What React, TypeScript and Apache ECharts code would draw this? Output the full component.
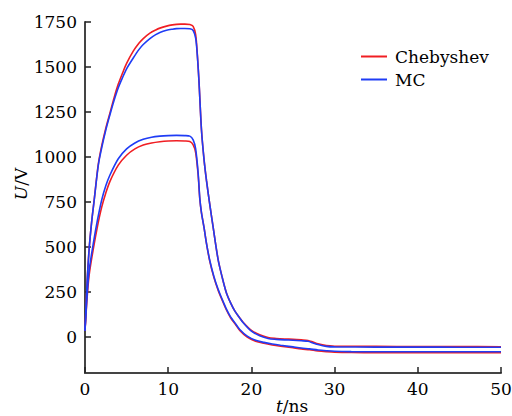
import React, { useEffect, useRef } from "react";
import * as echarts from "echarts";

const seriesNames = ["Chebyshev", "MC"];
const yTicks = [0, 250, 500, 750, 1000, 1250, 1500, 1750];

const upperT = [0, 0.25, 0.5, 0.8, 1.1, 1.6, 2, 2.5, 3, 3.5, 4, 4.5, 5, 5.8, 6.5, 7, 7.8, 8.5, 9, 9.8, 10.5, 11, 11.5, 12, 12.6, 13, 13.3, 13.5, 13.7, 14, 14.3, 14.6, 15, 15.4, 16, 16.5, 17, 17.5, 18, 18.5, 19, 20, 21, 22, 23, 24, 25, 26, 26.8, 27.4, 28, 29, 30, 35, 40, 45, 50];
const chebUpper = [35, 300, 490, 640, 760, 960, 1060, 1160, 1245, 1330, 1405, 1465, 1520, 1588, 1633, 1658, 1688, 1706, 1716, 1727, 1734, 1737, 1738, 1738, 1736, 1726, 1680, 1570, 1420, 1150, 990, 870, 735, 610, 430, 330, 245, 190, 145, 112, 82, 37, 12, -3, -8, -11, -13, -16, -19, -28, -38, -48, -51, -52, -53, -53, -54];
const mcUpper = [35, 300, 490, 640, 758, 955, 1050, 1150, 1235, 1315, 1385, 1440, 1490, 1550, 1598, 1625, 1658, 1680, 1692, 1704, 1710, 1713, 1714, 1714, 1712, 1703, 1660, 1565, 1420, 1150, 990, 870, 735, 610, 430, 330, 245, 190, 145, 112, 80, 32, 7, -8, -13, -16, -18, -21, -24, -33, -42, -52, -55, -56, -56, -57, -57];

const lowerT = [0, 0.25, 0.5, 1, 1.5, 2, 2.5, 3, 4, 5, 6, 7, 8, 9, 10, 11, 12, 12.6, 13, 13.3, 13.6, 13.8, 14, 14.3, 14.6, 15, 15.5, 16, 16.5, 17, 17.5, 18, 18.6, 19.5, 20.5, 21.5, 22.5, 23.5, 25, 26, 27, 28, 29, 30, 32, 35, 40, 45, 50];
const chebLower = [35, 215, 345, 490, 615, 720, 800, 865, 955, 1010, 1045, 1066, 1078, 1085, 1089, 1090, 1089, 1086, 1068, 1025, 900, 765, 690, 610, 520, 420, 330, 260, 203, 150, 107, 75, 37, 0, -23, -35, -44, -51, -60, -66, -71, -77, -81, -84, -86, -87, -87, -87, -87];
const mcLower = [35, 230, 370, 520, 650, 760, 840, 900, 990, 1045, 1078, 1098, 1110, 1116, 1119, 1120, 1119, 1116, 1095, 1045, 910, 770, 690, 610, 520, 425, 335, 265, 208, 155, 112, 80, 42, 5, -18, -30, -39, -46, -55, -61, -66, -72, -76, -79, -81, -82, -82, -82, -82];

const RED = "#f01e23";
const BLUE = "#1f3cf5";
const FONT = "DejaVu Serif";
const FS = 17;

const zip = (t: number[], v: number[]) => t.map((x, i) => [x, v[i]]);

export default function App() {
  const ref = useRef<HTMLDivElement>(null);
  useEffect(() => {
    if (!ref.current) return;
    const chart = echarts.init(ref.current, null, { renderer: "svg" });
    const line = (name: string, color: string, data: number[][], z: number) => ({
      type: "line",
      name,
      data,
      symbol: "none",
      smooth: 0.3,
      z,
      lineStyle: { color, width: 1.6 },
      itemStyle: { color },
    });
    const rich = {
      i: { fontStyle: "italic", fontFamily: FONT, fontSize: FS, fill: "#000" },
      n: { fontFamily: FONT, fontSize: FS, fill: "#000" },
    };
    chart.setOption({
      animation: false,
      backgroundColor: "#fff",
      grid: { left: 85, right: 11, top: 22, bottom: 43, outerBoundsMode: "none" },
      legend: {
        data: seriesNames,
        orient: "vertical",
        left: 356,
        top: 43,
        icon: "rect",
        itemWidth: 26,
        itemHeight: 2,
        itemGap: 6,
        itemStyle: { borderWidth: 0 },
        textStyle: { fontFamily: FONT, fontSize: FS, color: "#000", padding: [0, 0, 0, 3] },
      },
      xAxis: {
        type: "value",
        min: 0,
        max: 50,
        interval: 10,
        axisLine: { show: true, onZero: false, lineStyle: { color: "#444", width: 2 } },
        axisTick: { show: true, inside: true, length: 6, lineStyle: { color: "#222", width: 1.5 } },
        axisLabel: { fontFamily: FONT, fontSize: FS, color: "#000", margin: 7, formatter: (v: number) => String(v) },
        splitLine: { show: false },
      },
      yAxis: {
        type: "value",
        min: -200,
        max: 1750,
        axisLine: { show: true, onZero: false, lineStyle: { color: "#444", width: 2 } },
        axisTick: { show: true, inside: true, length: 6, customValues: yTicks, lineStyle: { color: "#222", width: 1.5 } },
        axisLabel: { customValues: yTicks, fontFamily: FONT, fontSize: FS, color: "#000", margin: 8, formatter: (v: number) => String(v) },
        splitLine: { show: false },
      },
      graphic: [
        {
          type: "text",
          x: 21,
          y: 184,
          rotation: Math.PI / 2,
          style: {
            text: "{i|U}{n|/V}",
            rich,
            fill: "#000",
            align: "center",
            verticalAlign: "middle",
          },
        },
        {
          type: "text",
          x: 292,
          y: 406,
          style: {
            text: "{i|t}{n|/ns}",
            rich,
            fill: "#000",
            align: "center",
            verticalAlign: "middle",
          },
        },
      ],
      series: [
        line("Chebyshev", RED, zip(upperT, chebUpper), 2),
        line("Chebyshev", RED, zip(lowerT, chebLower), 2),
        line("MC", BLUE, zip(upperT, mcUpper), 3),
        line("MC", BLUE, zip(lowerT, mcLower), 3),
      ],
    });
    return () => chart.dispose();
  }, []);
  return (
    <div
      ref={ref}
      style={{ position: "fixed", left: 0, top: 0, width: 512, height: 416 }}
    />
  );
}
